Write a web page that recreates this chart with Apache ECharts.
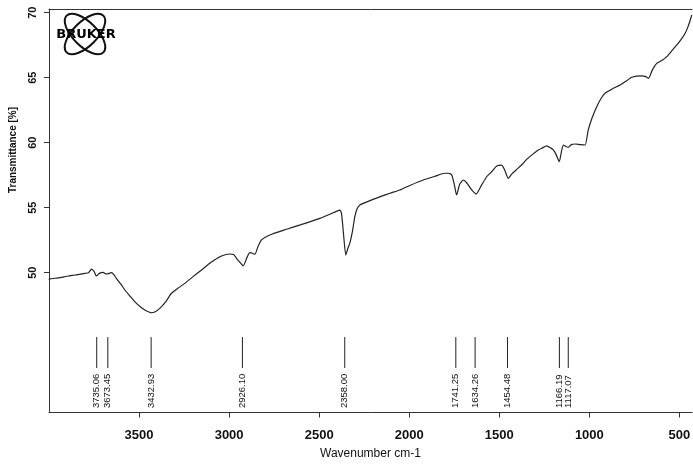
<!DOCTYPE html>
<html>
<head>
<meta charset="utf-8">
<script src="https://cdn.jsdelivr.net/npm/echarts@6/dist/echarts.min.js"></script>
<style>html,body{margin:0;padding:0;background:#fff;}#c{width:693px;height:468px;}</style>
</head>
<body>
<div id="c"></div>
<script>
// Spectrum data (wavenumber cm-1, transmittance %)
const wavenumbers = [4000,3996,3950,3913,3870,3840,3802,3780,3764,3750,3737,3720,3700,3680,3653,3640,3626,3600,3579,3550,3524,3495,3468,3431,3410,3385,3350,3320,3285,3246,3200,3153,3100,3042,2996,2975,2959,2940,2922,2900,2885,2870,2857,2840,2820,2774,2681,2600,2496,2440,2385,2376,2365,2352,2340,2329,2315,2302,2290,2274,2218,2160,2107,2052,1990,1922,1860,1802,1780,1764,1750,1737,1720,1700,1680,1655,1629,1600,1570,1540,1514,1487,1470,1450,1430,1403,1375,1348,1315,1283,1260,1237,1215,1200,1185,1167,1155,1144,1130,1117,1100,1079,1050,1024,1006,985,959,935,913,867,829,800,764,709,690,672,650,626,600,570,540,514,490,468,450,431];
const transmittance = [49.45,49.52,49.6,49.69,49.8,49.85,49.95,50.0,50.28,50.1,49.75,49.95,50.03,49.9,50.0,49.85,49.57,49.1,48.67,48.2,47.77,47.4,47.13,46.92,47.0,47.26,47.8,48.42,48.8,49.18,49.7,50.21,50.8,51.28,51.44,51.4,51.11,50.8,50.52,51.2,51.54,51.5,51.42,52.0,52.52,52.9,53.34,53.7,54.18,54.5,54.82,54.57,53.0,51.36,51.9,52.31,53.2,54.31,54.9,55.21,55.54,55.85,56.11,56.36,56.75,57.13,57.4,57.65,57.65,57.52,56.8,55.98,56.8,57.13,56.9,56.4,56.05,56.7,57.38,57.8,58.21,58.28,57.9,57.26,57.6,57.95,58.3,58.72,59.1,59.44,59.6,59.75,59.6,59.44,59.1,58.54,59.3,59.82,59.7,59.65,59.85,59.9,59.85,59.82,60.98,61.9,62.77,63.4,63.8,64.18,64.44,64.7,65.03,65.13,65.1,64.95,65.6,66.1,66.3,66.62,67.1,67.52,67.95,68.42,69.0,69.82];
// Peak picks
const peaks = [3735.06,3673.45,3432.93,2926.10,2358.00,1741.25,1634.26,1454.48,1166.19,1117.07];
// Tick values
const xTicks = [3500,3000,2500,2000,1500,1000,500];
const yTicks = [50,55,60,65,70];

const chart = echarts.init(document.getElementById('c'));
const FONT = 'Liberation Sans, Arial, sans-serif';
const axisColor = '#333';

chart.setOption({
  animation: false,
  backgroundColor: '#ffffff',
  grid: {left: 49, right: 1, top: 9, bottom: 55.5, containLabel: false, outerBoundsMode: 'none'},
  xAxis: [{
    type: 'value', inverse: true, min: 430, max: 4000,
    splitLine: {show: false},
    axisLine: {show: true, onZero: false, lineStyle: {color: axisColor, width: 1}},
    axisTick: {show: true, length: 5, customValues: xTicks, lineStyle: {color: axisColor}},
    axisLabel: {customValues: xTicks, formatter: v => String(v), margin: 16, fontSize: 13, fontWeight: 'bold', color: '#111', fontFamily: FONT},
    name: 'Wavenumber cm-1', nameLocation: 'middle', nameGap: 35,
    nameTextStyle: {fontSize: 12, color: '#111', fontFamily: FONT}
  }, {
    type: 'value', inverse: true, min: 430, max: 4000, position: 'top',
    splitLine: {show: false},
    axisLine: {show: true, onZero: false, lineStyle: {color: axisColor, width: 1}},
    axisTick: {show: false}, axisLabel: {show: false}
  }],
  yAxis: {
    type: 'value', min: 39.25, max: 70.28,
    splitLine: {show: false},
    axisLine: {show: true, onZero: false, lineStyle: {color: axisColor, width: 1}},
    axisTick: {show: true, length: 5, customValues: yTicks, lineStyle: {color: axisColor}},
    axisLabel: {customValues: yTicks, formatter: v => String(v), rotate: 90, margin: 11, fontSize: 11, fontWeight: 'bold', color: '#111', fontFamily: FONT}
  },
  graphic: [
    {type: 'text', x: 13.5, y: 150, rotation: Math.PI / 2,
     style: {text: 'Transmittance [%]', align: 'center', verticalAlign: 'middle', font: 'bold 10px ' + FONT, fill: '#111'}},
    {type: 'ellipse', x: 85, y: 34, rotation: Math.PI / 4, shape: {cx: 0, cy: 0, rx: 26, ry: 12},
     style: {fill: 'none', stroke: '#111', lineWidth: 2}},
    {type: 'ellipse', x: 85, y: 34, rotation: -Math.PI / 4, shape: {cx: 0, cy: 0, rx: 26, ry: 12},
     style: {fill: 'none', stroke: '#111', lineWidth: 2}},
    {type: 'text', x: 86, y: 34.5,
     style: {text: 'BRUKER', align: 'center', verticalAlign: 'middle', font: 'bold 13px DejaVu Sans, sans-serif', fill: '#000'}}
  ],
  series: [{
    type: 'line', xAxisIndex: 0,
    data: wavenumbers.map((w, i) => [w, transmittance[i]]),
    showSymbol: false, smooth: 0.2,
    lineStyle: {color: '#222', width: 1.2}
  }, {
    type: 'custom', xAxisIndex: 0,
    data: peaks.map(p => [p]),
    renderItem: function (params, api) {
      const w = api.value(0);
      const top = api.coord([w, 45.05]);
      const bot = api.coord([w, 42.67]);
      return {type: 'group', children: [
        {type: 'line', shape: {x1: top[0], y1: top[1], x2: bot[0], y2: bot[1]}, style: {stroke: '#222', lineWidth: 1}},
        {type: 'text', x: bot[0], y: bot[1] + 40, rotation: Math.PI / 2,
         style: {text: w.toFixed(2), align: 'left', verticalAlign: 'middle', font: '9.5px ' + FONT, fill: '#111'}}
      ]};
    }
  }]
});
</script>
</body>
</html>
